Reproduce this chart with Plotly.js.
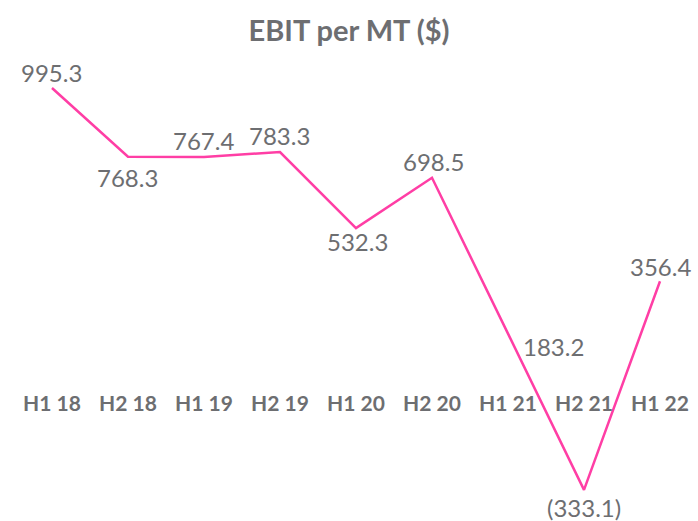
<!DOCTYPE html>
<html>
<head>
<meta charset="utf-8">
<script src="https://cdn.plot.ly/plotly-3.0.1.min.js"></script>
<style>html,body{margin:0;padding:0;background:#fff;}#chart{width:698px;height:521px;}</style>
</head>
<body>
<div id="chart"></div>
<script>
// Data
const categories = ["H1 18","H2 18","H1 19","H2 19","H1 20","H2 20","H1 21","H2 21","H1 22"];
const ebitPerMT = [995.3, 768.3, 767.4, 783.3, 532.3, 698.5, 183.2, -333.1, 356.4];
const chartTitle = "EBIT per MT ($)";

// Label placement (style only): offsets in px from point
const labelDX = [0, 0, 0, 0, 2, 2, 45, 0, 0];
const labelDY = [-15, 21, -16, -17, 13, -16, 13, 18, -15];

const gray = "#6d6e71";
const pink = "#ff3ea5";
const fontFam = "Lato, 'Open Sans', sans-serif";

const fmt = v => v < 0 ? "(" + Math.abs(v).toFixed(1) + ")" : v.toFixed(1);

const yRange = [-436, 1286];
const zeroPos = (0 - yRange[0]) / (yRange[1] - yRange[0]);

const annotations = categories.map((c, i) => ({
  x: c, y: ebitPerMT[i], xref: "x", yref: "y",
  text: fmt(ebitPerMT[i]), showarrow: false,
  xshift: labelDX[i], yshift: -labelDY[i],
  font: {family: fontFam, size: 24, color: gray}
}));

const trace = {
  x: categories, y: ebitPerMT, type: "scatter", mode: "lines",
  line: {color: pink, width: 2.5}, hoverinfo: "skip"
};

const layout = {
  width: 698, height: 521,
  margin: {l: 0, r: 0, t: 0, b: 0},
  paper_bgcolor: "#fff", plot_bgcolor: "#fff",
  showlegend: false,
  title: {text: "<b>" + chartTitle + "</b>", x: 0.5, xanchor: "center",
          y: 1 - 31/521, yanchor: "middle", yref: "container",
          font: {family: fontFam, size: 29, color: gray}},
  xaxis: {type: "category", range: [-0.684, 8.5], showgrid: false, zeroline: false,
          showline: false, ticks: "", anchor: "free", position: zeroPos,
          tickfont: {family: fontFam, size: 21, color: gray, weight: "bold"}},
  yaxis: {range: yRange, visible: false, showgrid: false, zeroline: false},
  annotations: annotations
};

Plotly.newPlot("chart", [trace], layout, {displayModeBar: false, staticPlot: true});
</script>
</body>
</html>
